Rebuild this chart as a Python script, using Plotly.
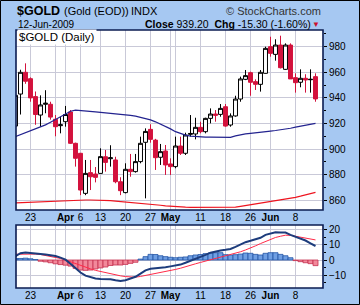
import plotly.graph_objects as go

W, H = 360, 305

dates = ["03-18", "03-19", "03-20", "03-23", "03-24", "03-25", "03-26", "03-27", "03-30", "03-31",
         "04-01", "04-02", "04-03", "04-06", "04-07", "04-08", "04-09", "04-13", "04-14", "04-15",
         "04-16", "04-17", "04-20", "04-21", "04-22", "04-23", "04-24", "04-27", "04-28", "04-29",
         "04-30", "05-01", "05-04", "05-05", "05-06", "05-07", "05-08", "05-11", "05-12", "05-13",
         "05-14", "05-15", "05-18", "05-19", "05-20", "05-21", "05-22", "05-26", "05-27", "05-28",
         "05-29", "06-01", "06-02", "06-03", "06-04", "06-05", "06-08", "06-09", "06-10", "06-11",
         "06-12"]

open_ = [918, 943, 960, 955, 941, 926.6, 935, 935, 923.3, 918.3,
         921.4, 929, 904.5, 896.7, 865.4, 881.6, 880.5, 881, 894, 892.5,
         891.5, 874.5, 866, 884.2, 882.4, 890.2, 905.3, 915.4, 907, 893.6,
         898.5, 888.4, 886.3, 902.4, 896.7, 911.5, 911.8, 917, 913.6, 924,
         927.4, 927.1, 933.1, 918.8, 925.9, 939.1, 954.5, 959.7, 952.7, 950.6,
         959.2, 980, 974, 981.3, 962.3, 981.3, 955.8, 952.2, 955.3, 954.2,
         956.6]
high = [944, 962, 967, 956, 945, 942, 946, 937, 926.6, 925.3,
        933.7, 930.5, 905, 897, 891.5, 891.5, 886, 900.6, 899.3, 903,
        894, 878, 888.9, 896.2, 896.2, 909.7, 916.2, 919.4, 908, 904,
        903.2, 892.8, 909.7, 909.7, 912.8, 926.6, 924.5, 921.4, 924.5, 931.8,
        930.5, 935.2, 935.2, 927.9, 941.7, 956.6, 961.8, 960.5, 954.5, 961.8,
        980, 987.8, 985.8, 988.6, 982.6, 982.6, 959.2, 962.3, 958.5, 962.3,
        959.2]
low = [916, 927, 951, 937, 919, 917.5, 928, 923, 910, 912.3,
       917.5, 904, 886.3, 864, 864, 868, 874, 881, 882.4, 886.3,
       873.3, 864, 865.4, 878.4, 881.6, 888.9, 861.5, 905, 883.7, 887.6,
       879.8, 879.8, 885, 895.4, 895.4, 909.7, 907.6, 912.3, 912.3, 920.1,
       921.4, 925.3, 917.5, 917.5, 925.3, 937, 953.9, 941.7, 946.2, 944.9,
       959, 972.2, 969.1, 963, 961.8, 954.8, 944.1, 948.3, 944.1, 944.1,
       937]
close = [942, 960, 953, 940, 927, 934.5, 935.8, 925, 917.5, 919,
         927, 904.5, 892.8, 868, 881, 878.4, 877.9, 894.1, 889.6, 893.2,
         874.5, 867.5, 884.2, 882.4, 890.2, 904.5, 913.8, 907.6, 893.3, 898,
         887.6, 886.3, 902.4, 896.7, 911, 912.2, 917, 913.6, 924, 927.4,
         926.4, 931.8, 918, 925.9, 939.1, 954.8, 957.4, 952.2, 950.6, 960,
         978.7, 974.8, 981.3, 963.6, 981.3, 954.8, 951.9, 955.3, 954, 954.5,
         939.2]

ma50 = [909.8, 911.3, 912.8, 914.3, 915.8, 917.2, 918.9, 921.0, 923.0, 925.5,
        927.6, 929.6, 930.4, 930.2, 929.9, 929.5, 929.1, 928.7, 928.4, 928.1,
        927.7, 927.3, 926.9, 926.4, 925.8, 925.0, 924.0, 922.8, 921.3, 919.6,
        917.7, 915.8, 913.6, 912.0, 910.9, 910.2, 909.8, 909.5, 909.4, 909.3,
        909.2, 909.2, 909.1, 909.1, 910.3, 911.4, 911.9, 912.3, 912.6, 913.0,
        913.5, 914.0, 914.5, 915.0, 915.6, 916.3, 917.2, 918.0, 918.8, 919.5,
        920.1]
ma200 = [858.0, 858.2, 858.4, 858.6, 858.8, 859.0, 859.2, 859.4, 859.6, 859.8,
         860.0, 860.2, 860.2, 860.2, 860.2, 860.2, 860.2, 860.2, 860.0, 859.7,
         859.4, 859.1, 858.8, 858.4, 858.0, 857.6, 857.3, 857.0, 856.5, 856.1,
         855.7, 855.3, 855.0, 854.8, 854.6, 854.5, 854.5, 854.5, 854.5, 854.5,
         854.5, 854.5, 854.5, 854.5, 854.6, 855.2, 855.8, 856.4, 857.0, 857.6,
         858.2, 858.8, 859.4, 860.0, 860.7, 861.5, 862.3, 863.2, 864.1, 865.1,
         866.2]

macd = [2.5, 4.5, 5.0, 4.8, 4.4, 4.0, 3.6, 3.2, 2.6, 1.6,
        0.2, -2.5, -5.5, -8.2, -10.3, -11.5, -12.2, -12.5, -12.5, -12.6,
        -13.3, -13.8, -13.3, -12.3, -11.0, -9.0, -6.8, -5.8, -5.5, -5.3,
        -4.8, -4.2, -3.6, -3.0, -1.8, -0.6, 1.0, 2.2, 3.4, 4.8,
        5.8, 6.3, 6.7, 7.2, 8.6, 10.2, 11.7, 12.6, 13.5, 14.6,
        16.5, 17.6, 18.2, 18.1, 18.0, 16.5, 15.3, 14.2, 12.8, 11.0,
        9.2]
signal = [3.8, 3.9, 4.0, 4.0, 3.9, 3.6, 3.0, 2.4, 1.8, 1.0,
          0.0, -1.2, -2.6, -3.8, -4.9, -5.8, -6.8, -7.6, -8.3, -9.0,
          -9.7, -10.4, -10.9, -11.3, -11.3, -10.8, -10.2, -9.5, -8.8, -8.2,
          -7.6, -7.0, -6.2, -5.4, -4.6, -3.6, -2.5, -1.6, -0.7, 0.3,
          1.1, 1.8, 2.6, 3.4, 4.3, 5.4, 6.6, 7.8, 9.3, 10.8,
          12.2, 13.6, 14.8, 15.6, 16.3, 16.2, 15.6, 15.0, 14.5, 13.8,
          13.2]
hist = [1.0, 1.0, 1.2, 0.8, 0.3, -0.8, -1.2, -1.8, -2.5, -3.0,
        -3.4, -4.0, -5.5, -6.6, -6.8, -6.6, -5.9, -5.2, -4.6, -3.6,
        -3.3, -3.3, -2.9, -2.2, -1.5, 0.6, 2.2, 3.7, 3.6, 2.8,
        2.2, 1.8, 1.5, 1.8, 2.0, 2.8, 3.3, 3.6, 4.2, 4.6,
        4.8, 4.8, 3.5, 3.3, 3.5, 3.9, 4.6, 4.4, 3.7, 3.3,
        4.4, 4.8, 4.8, 3.7, 2.8, 1.5, -0.4, -1.1, -1.8, -2.4,
        -3.7]

tick_dates = ["03-23", "04-01", "04-06", "04-13", "04-20", "04-27", "05-01", "05-11", "05-18", "05-26", "06-01", "06-08"]
tick_text = ["23", "<b>Apr</b>", "6", "13", "20", "27", "<b>May</b>", "11", "18", "26", "<b>Jun</b>", "8"]
grid_only_dates = ["03-30", "05-04"]
month_dates = ["04-01", "05-01", "06-01"]

price_ticks = [860, 880, 900, 920, 940, 960, 980]
macd_ticks = [-10, 0, 10, 20]

FONT = "Liberation Sans, Arial, sans-serif"
RED = "#d3123d"
GRID = "#c9c9d8"
BORDER = "#0b1c52"
BG = "#a6c8f2"

x = list(range(len(dates)))
idx = {d: i for i, d in enumerate(dates)}

up = [i for i in x if close[i] - open_[i] > 0.6]
dn = [i for i in x if open_[i] - close[i] > 0.6]
dj = [i for i in x if i not in up and i not in dn]


def sub(arr, ids):
    return [arr[i] for i in ids]


fig = go.Figure()

for ids, fill, lc in [(up, "white", "black"), (dn, RED, RED), (dj, "black", "black")]:
    fig.add_trace(go.Candlestick(
        x=ids, open=sub(open_, ids), high=sub(high, ids), low=sub(low, ids), close=sub(close, ids),
        increasing=dict(fillcolor=fill, line=dict(color=lc, width=1)),
        decreasing=dict(fillcolor=fill, line=dict(color=lc, width=1)),
        whiskerwidth=0, showlegend=False, hoverinfo="skip", xaxis="x", yaxis="y"))

fig.add_trace(go.Scatter(x=x, y=ma50, mode="lines", line=dict(color="#23238f", width=1.2),
                         showlegend=False, hoverinfo="skip", xaxis="x", yaxis="y"))
fig.add_trace(go.Scatter(x=x, y=ma200, mode="lines", line=dict(color="#ee1520", width=1.2),
                         showlegend=False, hoverinfo="skip", xaxis="x", yaxis="y"))

hcol = ["#6f9fe3" if v >= 0 else "#f2889a" for v in hist]
hline = ["#2456a6" if v >= 0 else "#c4304f" for v in hist]
fig.add_trace(go.Bar(x=x, y=hist, width=1.0, marker=dict(color=hcol, line=dict(color=hline, width=0.8)),
                     showlegend=False, hoverinfo="skip", xaxis="x2", yaxis="y2"))
fig.add_trace(go.Scatter(x=x, y=signal, mode="lines", line=dict(color="#ff2a48", width=1),
                         showlegend=False, hoverinfo="skip", xaxis="x2", yaxis="y2"))
fig.add_trace(go.Scatter(x=x, y=macd, mode="lines", line=dict(color="#1d3c7c", width=2),
                         showlegend=False, hoverinfo="skip", xaxis="x2", yaxis="y2"))

px0, px1 = 16, 323
main_top, main_bot = 30, 210
low_top, low_bot = 225, 288
xdom = [px0 / W, px1 / W]
xrange_ = [0.1, 61.5]

tv = [idx[d] for d in tick_dates] + [idx[d] for d in grid_only_dates]
tt = tick_text + ["" for _ in grid_only_dates]

xcommon = dict(domain=xdom, range=xrange_, tickmode="array", tickvals=tv, ticktext=tt,
               showgrid=True, gridcolor=GRID, gridwidth=1, zeroline=False, showline=False,
               ticks="", tickfont=dict(size=10, color="black", family=FONT), fixedrange=True)

fig.update_layout(
    width=W, height=H, margin=dict(l=0, r=0, t=0, b=0),
    paper_bgcolor=BG, plot_bgcolor="white",
    boxgap=0.12, boxgroupgap=0.1,
    font=dict(family=FONT, color="black"),
    xaxis=dict(anchor="y", rangeslider=dict(visible=False), **xcommon),
    xaxis2=dict(anchor="y2", **xcommon),
    yaxis=dict(domain=[(H - main_bot) / H, (H - main_top) / H], range=[852.4, 993.05],
               side="right", tickmode="array", tickvals=price_ticks, ticks="outside", ticklen=3,
               tickcolor="black", showgrid=True, gridcolor=GRID, zeroline=False, showline=False,
               tickfont=dict(size=10, color="black", family=FONT), fixedrange=True,
               minor=dict(dtick=10, ticks="outside", ticklen=2, tickcolor="black", showgrid=False)),
    yaxis2=dict(domain=[(H - low_bot) / H, (H - low_top) / H], range=[-18.4, 23.0],
                side="right", tickmode="array", tickvals=macd_ticks, ticks="outside", ticklen=3,
                tickcolor="black", showgrid=True, gridcolor=GRID, zeroline=False, showline=False,
                tickfont=dict(size=10, color="black", family=FONT), fixedrange=True,
                minor=dict(dtick=5, ticks="outside", ticklen=2, tickcolor="black", showgrid=False)),
)

shapes = []
for d in month_dates:
    for ya in ["y", "y2"]:
        shapes.append(dict(type="line", xref="x", yref=ya + " domain", x0=idx[d], x1=idx[d], y0=0, y1=1,
                           line=dict(color="#a4a8bc", width=1), layer="below"))
for t, b in [(main_top, main_bot), (low_top, low_bot)]:
    shapes.append(dict(type="rect", xref="paper", yref="paper", x0=px0 / W, x1=px1 / W,
                       y0=(H - b) / H, y1=(H - t) / H, line=dict(color=BORDER, width=1.6)))
shapes.append(dict(type="rect", xref="paper", yref="paper", x0=0.5 / W, x1=1 - 0.5 / W,
                   y0=0.5 / H, y1=1 - 0.5 / H, line=dict(color="black", width=1)))
fig.update_layout(shapes=shapes)


def ann(text, xp, yp, size, xanchor="left", color="black", bg=None):
    d = dict(text=text, x=xp / W, y=1 - yp / H, xref="paper", yref="paper", xanchor=xanchor,
             yanchor="middle", showarrow=False, font=dict(size=size, color=color, family=FONT))
    if bg:
        d.update(bgcolor=bg, borderpad=1)
    fig.add_annotation(**d)


ann("<b>$GOLD</b>", 15, 10.5, 12.5)
ann("(Gold (EOD))", 62, 11, 11)
ann("INDX", 129, 11, 11)
ann("© StockCharts.com", 323, 11, 11, xanchor="right", color="#333333")
ann("12-Jun-2009", 16, 24, 10)
ann("<b>Close</b> 939.20  <b>Chg</b> -15.30 (-1.60%)", 313, 24, 10.5, xanchor="right")
ann("▼", 322, 24, 8, xanchor="right", color="#cc1030")
ann("$GOLD (Daily)", 17, 37, 11.5, bg="white")

fig.write_html("out.html")
